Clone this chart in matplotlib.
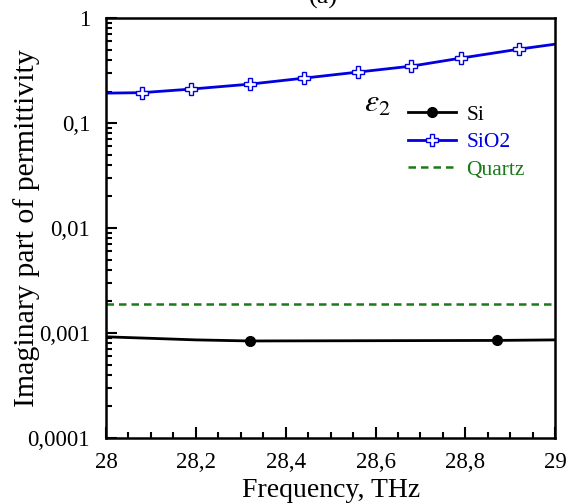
import matplotlib.pyplot as plt
from matplotlib.ticker import FuncFormatter, MultipleLocator, LogLocator, NullFormatter

plt.rcParams['font.family'] = ['Liberation Serif', 'DejaVu Serif']
plt.rcParams['mathtext.fontset'] = 'stix'

# Si
si_freq = [28.0, 28.1, 28.2, 28.32, 28.87, 29.0]
si_eps = [0.00092, 0.00089, 0.00086, 0.00084, 0.00085, 0.00086]

# SiO2
sio2_freq = [28.0, 28.08, 28.19, 28.32, 28.44, 28.56, 28.68, 28.79, 28.92, 29.0]
sio2_eps = [0.193, 0.195, 0.211, 0.235, 0.268, 0.306, 0.349, 0.416, 0.507, 0.565]

# Quartz
quartz_freq = [28.0, 29.0]
quartz_eps = [0.0019, 0.0019]


def comma_fmt(v, pos):
    s = '%g' % v
    if 'e' in s:
        s = '%.4f' % v
    return s.replace('.', ',')


fig = plt.figure(figsize=(5.7, 5.04), dpi=100)
ax = fig.add_axes([0.186, 0.131, 0.788, 0.833])

ax.plot(si_freq, si_eps, color='black', lw=2, marker='o', ms=7,
        markevery=[3, 4], label='Si')
ax.plot(sio2_freq, sio2_eps, color='#0000e0', lw=2, marker='P', ms=8,
        markerfacecolor='white', markeredgecolor='#0000e0', markeredgewidth=1,
        markevery=list(range(1, 9)), label='SiO2')
ax.plot(quartz_freq, quartz_eps, color='#1a7a1a', lw=1.8, ls=(0, (3, 2)),
        label='Quartz')

ax.set_yscale('log')
ax.set_xlim(28, 29)
ax.set_ylim(1e-4, 1)

ax.xaxis.set_major_locator(MultipleLocator(0.2))
ax.xaxis.set_minor_locator(MultipleLocator(0.05))
ax.yaxis.set_major_locator(LogLocator(base=10, numticks=10))
ax.yaxis.set_minor_locator(LogLocator(base=10, subs=range(2, 10), numticks=20))
ax.yaxis.set_minor_formatter(NullFormatter())
ax.xaxis.set_major_formatter(FuncFormatter(comma_fmt))
ax.yaxis.set_major_formatter(FuncFormatter(comma_fmt))

ax.tick_params(which='both', direction='in', labelsize=16.5, width=1.5)
ax.tick_params(which='major', length=8, pad=10)
ax.tick_params(axis='y', which='major', pad=11.5)
ax.tick_params(which='minor', length=4)
for sp in ax.spines.values():
    sp.set_linewidth(1.8)

ax.set_xlabel('Frequency, THz', fontsize=20, labelpad=4)
ax.set_ylabel('Imaginary part of permittivity', fontsize=21.5)
ax.yaxis.set_label_coords(-0.148, 0.5)

leg = ax.legend(loc='upper left', bbox_to_anchor=(0.63, 0.84), frameon=False,
                fontsize=15.5, handlelength=2.2, handletextpad=0.5,
                labelspacing=0.35, labelcolor=['black', '#0000e0', '#1a7a1a'])
ax.text(0.575, 0.83, r'$\varepsilon_{\mathrm{2}}$', transform=ax.transAxes,
        fontsize=23, va='top', ha='left')

fig.text(323 / 570, 1 + 3 / 504, '(a)', ha='center', va='center', fontsize=19)

fig.savefig('out.png', dpi=100)
